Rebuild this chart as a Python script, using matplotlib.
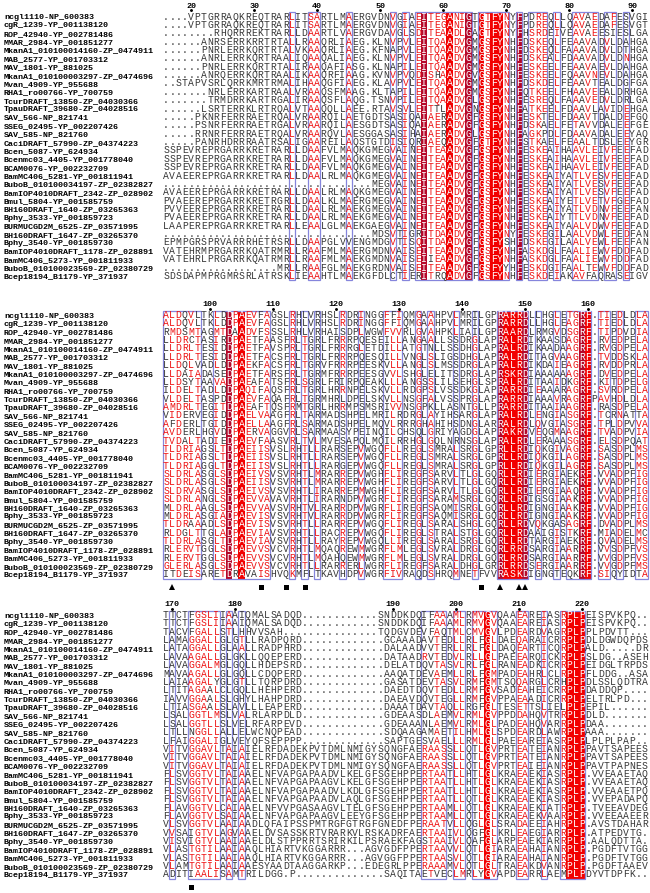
import numpy as np
import matplotlib
matplotlib.use("Agg")
import matplotlib.pyplot as plt
from matplotlib.patches import Rectangle

# sequence names (same order in every block)
names = [
    "ncgl1110-NP_600383", "cgR_1239-YP_001138120", "ROP_42940-YP_002781486",
    "MMAR_2984-YP_001851277", "MkanA1_010100014160-ZP_0474911", "MAB_2577-YP_001703312",
    "MAV_1801-YP_881025", "MkanA1_010100003297-ZP_0474696", "Mvan_4909-YP_955688",
    "RHA1_ro00766-YP_700759", "TcurDRAFT_13850-ZP_04030366", "TpauDRAFT_39680-ZP_04028516",
    "SAV_566-NP_821741", "SSEG_02495-YP_002207426", "SAV_585-NP_821760",
    "CaciDRAFT_57990-ZP_04374223", "Bcen_5087-YP_624934", "Bcenmc03_4405-YP_001778040",
    "BCAM0076-YP_002232709", "BamMC406_5281-YP_001811941", "BuboB_010100034197-ZP_02382827",
    "BamIOP4010DRAFT_2342-ZP_028902", "Bmul_5804-YP_001585759", "BH160DRAFT_1640-ZP_03265363",
    "Bphy_3533-YP_001859723", "BURMUCGD2M_6525-ZP_03571995", "BH160DRAFT_1647-ZP_03265370",
    "Bphy_3540-YP_001859730", "BamIOP4010DRAFT_1178-ZP_028891", "BamMC406_5273-YP_001811933",
    "BuboB_010100023569-ZP_02380729", "Bcep18194_B1179-YP_371937",
]

block1 = [
    "....VPTGRRAQKREQTRARLITSA" + "RTLMAERGVDNVGIAEITEGANIGTGTFYNYFPDREQLLQAVAEDAFESVGI",
    "....VPTGRRAQKREQTRARLITSA" + "RTLMAERGVDNVGIAEITEGANIGTGTFYNYFPDREQLLQAVAEDAFESVGT",
    "........RHQRRREKTRARLLDAA" + "RTLVAERGVDAVGLSDITEAADLGAGTFYNYFHSRDEIVEAVAEESIESLGA",
    "......ANRSERRKRRTRTALLRAA" + "QRLIAEG.KLNVPVLEITQAADVGMGSFYNHFDSKEQLFEAAVADVLDAHGA",
    "......PNRLERRKQRTRTALVKAA" + "QRLIAEG.KFNAPVLEITQAADVGMGSFYNHFDSKEQLFAAAVADVLDTHGA",
    "......ANRLERRKQRTRAALIQAA" + "QALIAEG.KLNVPVLEITQAADVGMGSFYNHFDSKEALFDAAVADVLDNHGA",
    "......PNRLERRKQRTRTALIRAA" + "QAFIASG.KLNAPILEITQAADVGMGSFYNHFESKEELFEAAVAEVLDAHGA",
    "......ANRQERRKQRTRAALIKAA" + "QRFIAAG.KVNVPVQDISHAADVGVGSFYNHFESKEELFQAAVNEVLDAHGA",
    "..STAPVSRLQRRKMRTRMALIHAA" + "QGFIAEG.KLAVPVLEITQAADVGMGSFYNHFDSKDELFEAAVTEALDGFGA",
    ".......NRLERRKARTRAALVRAA" + "QSFMAAG.KLTAPILEITQAADVGMGSFYNHFQTKEELFHAAVEEALDRHGA",
    ".......TRMDRRKARTRGALIRAA" + "QSFLAQG.TSNVPILEITQAADVGLGSFYNHFESREQLFAAAVEDVLDRLGA",
    "......LSRTERRKLRTRQALVTAA" + "QQLLAEE.RTAVSVLEITTLADVGNGSFYNHFATKEELFDAAVLAVIDEHGA",
    ".....PKNRFERRRAETRQALVRAA" + "RQILAETGDTSASIQAIAERADVGFGSFYNHFESKTELFDAAVTDALDEFGQ",
    ".....PSNRFERRRAETRGALVRAA" + "RQILAESGDTSASIQAIAERADVGFGSFYNHFDSKAELFETAVVDALEEFGE",
    ".....RRNRFERRRAETRQALVRAA" + "RQVLAESGGASASIHAIAERADVGLGSFYNHFAGKPDLFDAAVADALEEYAQ",
    ".....PANRHDRRRAATRSALIGAA" + "REILAQSTGTDISIQRIAEQADVGFGTFYNHFSTKAELFEAALTDSLEEYGR",
    "SSPEVREPRGARRKRETRARLLDAA" + "FVLMAQKGMEGVAINEITEAADVGFGSFYNHFESKEAIHAAVLEIVFEEFAD",
    "SSPEVREPRGARRKRETRARLLDAA" + "FVLMAQKGMEGVAINEITEAADVGFGSFYNHFESKEAIHAAVLEIVFEEFAD",
    "SSPEVREPRGARRKRETRARLLDAA" + "FVLMAQKGMEGVAINEITEAADVGFGSFYNHFESKEAIHAAVLEIVFEEFAD",
    "AVAEEREPRGARRKRETRARLLDAA" + "LRLMAQKGMEGVAINEITEAADVGFGSFYNHFESKEAIYATLVESVFEEFAD",
    "........................." + "........MEGVAINEITEAADVGFGSFYNHFESKEAIYATLVESVFEEFAD",
    "AVAEEREPRGARRKRETRARLLDAA" + "LRLMAQKGMEGVAINEITEAADVGFGSFYNHFESKEAIYATLVESVFEEFAD",
    "PVAEEREPRGARRKRETRGRLLDAA" + "LKLMAERGMEGVAINEITEAADVGFGSFYNHFESKEAIYETLVETVFGEFAD",
    "PVVEEREPRGARRKRETRARLLDAA" + "LRLMAEKGMEGVAINEITEAADVGFGSFYNHFESKEAIYATLVDNVFEEFAN",
    "PVAEEREPRGARRKRETRARLLDAA" + "LRLMAEKGMEGVAINEITEAADVGFGSFYNHFESKEAIYTTLVDNVFEEFAD",
    "LAAPEREPRGARRKRETRARLLEAA" + "LGLMAEKGAEGVAINEITEAADVGFGSFYNHFESKEAIYAALVDWVFEEFAD",
    "........................." + "........MDSVTIGRITDAADVGFGSFYNYFESKEGILAALVDWLFEDFAN",
    "EPMPGRSPRVARRRHETRSRLLDAA" + "PGLVVENGMDGVTISQITDAADVGFGSFYSHFDSKEGILAALVEWLFEEFAN",
    "VATEHRMPRGARRKQATRMRLLRAA" + "FMLMAERGMDNVAISEITEAADVGFGSFYNHFASKDGLFAALIEWVFDDFAD",
    "VATEHRLPRGARRKQATRMRLLRAA" + "FMLMAEKGMDNVAISEIIEAADVGFGSFYNHFASKDGLFAALIEWVFDDFAD",
    "..................MRLLRAA" + "FGLMAEKGRDNVAISEITEAADVGFGSFYYHFESKDGIFAALTEWVFDDFAD",
    "SDSDAPMPRGMRSRLATRSKLIEAA" + "HTLMAEKGFDLCTIERITRQADVGFGSFYNHFESKDEIAKAVFAQRASEIGV",
]

block2 = [
    "ALDQVLTKLDDPAEVFAGSLRHLVR" + "HSLRDRINGGFFIQMGAAHPVLMRILGPRARRDLLHGLETGRF.TIEDLDLA",
    "ALDQVLTKLDDPAEVFAGSLRHLVR" + "HSLRDRINGGFFIQMGAAHPVLMRILGPRARRDLLHGLEAGRF.TIEDLDLA",
    "RMDSMTAGMTDAADVFSSSLRHLVR" + "HAISDPLWGWFVVRLGVAHPKLIAILGPRAARDLRMGVDSGRF.TIPDVDIA",
    "LLDRCTASIRDPAETFAASFRLTGR" + "LFRRRPQESEILLANGAALLSSDRGLAPRALRDIKAASDAGRF.RVEDPELA",
    "LLDRLTESIDDPAETFAVSPRLTGR" + "LFRRRGLETDILLATGTNLLSSDHGLAPRALRDIKAADAAGRF.RVGDPELA",
    "LLDRLTESIDDPAETFACSFRLTGR" + "LFRRRPQESQILLVNGLSLIGSDHGLAPRALRDITAGVAAGRF.TVDDSKLA",
    "LLDQLVADLDDPAEKFACSFRLTGR" + "VFRRRPEESKVLLANGLSLMSSDRGLAPRALRDIKDAIEAGRF.RVDDPRLA",
    "LLDAIADASEDPAETFARSFRLTGR" + "MFRRRPEESGVVLSHGLELITSDRGLAPRSKRDIAAAAAAGRF.DVEDPELA",
    "LLDSYTAAVADPAEAFATSFRLSGR" + "LFRIRPQEAKLLLANGSSLILSEHGLSPRALRDITAAIDKGRF.KITDPELG",
    "ILDELTADLDDPAQIFAQSFRLTGR" + "LHRRNPELSKVLLRDGPSLVSSDKGLAPRARRDIEAAARAGRF.SVRDPELA",
    "VLDELTASPDDPAEVFAQAFRLTGR" + "MHRLDPELSKVLLNSGFALVSSPRGLAPRARRDIAAAVRAGRFPAVHDLDLA",
    "AMDRLTEGITDPAEAFTQSFRMTGR" + "LHRRMPSMSRIVVNSGPKLLASNTGLLPRARRDITAAIAAGRF.RASDPELA",
    "VIDERVEGIDDPAELVAAGFRLTAR" + "MADSHPELMRILRDRGLAYIHSARGLAPRALRDLENGIASGRF.TCRNATTA",
    "AFDERLTGIDDPAELLAAGFRLSAR" + "MADSHPELMQVLRRRGHAHIHSDNGLARRALRDLQVGIASGRF.TPLDPVVA",
    "AVDERLHGVDDPAERVAGGVRLSAR" + "MAASYPEINQILCHSQLGRIYAGDGLAPRAKRDVEQGMAAGRF.TVADPVIA",
    "TVDALTADIEDPAEVFAASVRLTVL" + "MVESAPQLMQILRRHGLGQLNRNSGLAPRALRDLERAAASGRF.ELSDPQAT",
    "TLDRIAGSLTDPAEIISVSLRHTLL" + "RARSEPVWGQFLLREGLSMRALSRGLGPRLLRDIQKGIVAGRF.SASDPLMS",
    "TLDRIAGSLTDPAEIISVSLRHTLL" + "RARSEPVWGQFLLREGLSMRALSRGLGPRLLRDIQKGILAGRF.SASDPLMS",
    "TLDRIAGGLTDPAEIISVSLRHTLL" + "RARGEPVWGQFLLREGLSMRALSRGLGPRLLRDIQKGILAGRF.SASDPLMS",
    "SLDRLASGLSDPAEIVSVSVRHTLM" + "RARREPVWGHFLIREGFSARVLTLGLGQRLLRDIERGIAEKRF.VVADPFIG",
    "SLDRLASGLSDPAEIISVSVRHTLM" + "RARREPVWGHFLIREGFSARVLTLGLGQRLLRDIERGIAEKRF.VVADPFIG",
    "SLDRVASGLSDPAEIVSVSVRHTLI" + "RARREPMWGHFLIREGFSARVLTLGLGQRLLRDIERGIAAQRF.VVADPFIG",
    "SLDRLANGLSDPAEVVAVAVRHTLI" + "RARNDPVWGRFLIREGFSARAMSRGLGQRLLRDIGSGIAAKRF.VVADPFIG",
    "MLDRLAAGLSDPAEVVAVSVRHTVL" + "RARRDPVWGRFLIREGFSAQMISRGLGQRLLRDIGNGIAAKRF.VVADPFIG",
    "MLDRLASGIADPAEVISVSVRHTVL" + "RARRDPVWGRFLIREGFSAQMISRGLGQRLLRDIGNGIAAKRF.VVADPFIG",
    "TLDRAAADLSDPAEVISVSVRHTLL" + "RARREPVWGQFLIREGLSARALSHGLGQRLLRDVQKGASAGRF.DVADPLMS",
    "RLDGLTTGLADPAEVIAVSVRHTLL" + "RACREPVWGQFLIREGLSTRALSTGLGQRLLRDAAIGISTKRF.MIADELMC",
    "TLDRLASGLTDPAEVIAVSVRHTLL" + "RAYREPVWGQLLIREGLSARALSRGLGQRLLRDTARGIAEKRF.QVADELMS",
    "RLERVTGGLSDPAEVVSVCVRHTLM" + "QAQREWMWGRFLMLEGLSVRALDRGLGQRLRRDSARGIAARRF.VVSDPFVS",
    "RLERVTGGLSDPAEVVSVCVRHTLM" + "QAHQEWMWGRFLMLEGLSVRALDRGLGQRLRRDSARGIAARRF.VVGDPFVS",
    "GLERLASGLSDPAEVVSVCVRHTLL" + "RARRERLWGRFLIREGFSARALDHGLGRRLRRDSERGIAARRF.VVGDPFMS",
    "ITDEISARETDRAVAISHVQKMFLT" + "KAVHDPVWGRFIVRAQDSHRQMNETFVVRASKDIGNGTEQKRF.SIQYIDTA",
]

block3 = [
    "TTCTFGSLIIAAIQMALSADQD..." + "........." + "SNDDKDQIFAAAMLRMVGVQAAEAREIASRPLPEISPVKPQ..",
    "TTCTFGSLIIAAIQMALSADQD..." + "........." + "SNDDKDQIFAAAMLRMVGVQAAEAREIASRPLPEISPVKPQ..",
    "TACVFGALLSTLHHVVSAH......" + "........." + "TQDGVDEVFAQTMLCMVGVLPDEARDVAGRPLPPLPDVTT...",
    "LAMAGGALLGLGTLLRADPQRD..." + ".........." + "GCAAADAVTEDLLRLFGLDAEQARAICRRPLPDLDGWDQPDS",
    "LATAGGALLGLAALLRADPHRD..." + ".........." + "DALAADVVTERLLRLFGLDAQEARTICQRPLPALD.....DR",
    "LAVAAGALLGLGKLLQQEPERD..." + ".........." + "DATAADRVTEDVLRLLGLPAEEARQICKRPLPSLDG..ASEH",
    "LAVAGGALMGLGQLLHDEPSRD..." + ".........." + "DELATDQVTASVLRLFGLRANEADKICRRPLPEIDGLTRPDS",
    "MAVAAGALLGLGQLLCDQPERD..." + ".........." + "AAQATDEVAEMLLRLFGMPADEAHRLCLRPLPFLDDG..ASA",
    "LAIAAGALYGLGTLLTQRPDRD..." + ".........." + "GASATDEVTASVLRMFGMTSQQARGLCRHPLPDLSSLQDTRA",
    "LTITAGAALCLGQLLHEHPERD..." + ".........." + "DAEDTDQVTEDLLRMFGVSADEAHEICRRPLPDADDQP....",
    "IAVVGGAALSLGHYLHAHPDRD..." + ".........." + "DAEAVDQVTEGLLRMFGVPPAEAADICRRPLPELTRLPD...",
    "LTIASGAALSLAVLLLEAPERD..." + ".........." + "DAAATDAVTAQLLRGFGLTESETTSLIELPLPEPIL......",
    "LSALGGTLMSLVALRLARPDLD..." + ".........." + "GDEAASDLAEMVLRMLGVPPDDAHQVTRRPLPDLD.......",
    "LSALGGTLLSLVELRFARPEVD..." + ".........." + "GDEAAANLAEMVLRMLGLPADEAHQVARRPLPDAA.......",
    "LTLLNGGLLALLELWCNQPEAD..." + ".........." + "SDQAAGAMAETILHMLGLSPDEARDLAWRPLPAAA.......",
    "LFAIGGALIGLVEYQFSEPPPP..." + ".........." + "SAPTGESVAELLLRMLGLPAEEAREIASRPLPLPLPLPAP..",
    "VITVGGAVLTAIAIELRFDADEKPV" + "TDMLNMIGYSQNGFAERAASSLLQTLGVPRTEATEIANRPLPPAVTSAPEES",
    "VITVGGAVLTAIAIELRFDADEKPV" + "TDMLNMIGYSQNGFAERAASSLLQTLGVPRTEATEIANRPLPPAVTSAPEES",
    "VITVGGAVLTAIAIELRFDADEKPV" + "TDMLNMIGYSQNGFAERAASSLLQTLGVPRTEAIEIANRPLPPAVTPAPNES",
    "FLSVGGTVLTAIAAELNFVAPGAPA" + "ADVLKELGFSGEHPPERTAATLLHTLGLKRAEAEKIASRPLP.VVEAAETAQ",
    "FLSVGGTVLTAIAAELNFVAPGAPA" + "AGVLKELGFSGEHPPERTAATLLHTLGLKRAEAEKIASRPLP.VVEAAETAQ",
    "FLSVGGTVLTAIAAELNFVAPGAPA" + "ADVLKDLGFSGEHPPERTAATLLHTLGLKRAEAEKIASRPLP.VVEAAETPQ",
    "FLSVGGTVLTAIAAELNFVAPGAPA" + "ADVLAQLGFSGEHPPERTAATLLQTLGLKRAEAEKIASRPLP.VVEPADAPQ",
    "FLAVGGTVLCAIAAELNFVVPGASA" + "AGVLTELGFSGEHPPERTAAMLLQTLGLKRAEAEKIATRPLP.TVEEAVDEG",
    "FLAVGGTVLSAIAAELNFVAPGAPA" + "AGVLEEYGFSGEHPPERTAAMLLQTLGLKRAEAEKVAARPLP.VVEEAAEER",
    "VLSVGGTVLAAIAADLQFAIPSSPM" + "TRGFGTRGFGNEDFPERAATVLLQGLGLSRADAEEIAHRPLP.AVSTDAHAR",
    "VVSAIGTVLAGVAAELDVSASSKRT" + "VRARKVLRSKADRFAERTAAIVLQGFGLKRLEAEGIARRPLP.ATPEDVTG.",
    "VISVIGTVLAAIAAELDLSTPPRRT" + "SRIRKILPSRAEKFAGSTAAIVLQAFGLARPEAEKIARRPLP.AALQDTTA.",
    "VLASTGTILAAIAAQLHIARTVKGG" + "ARRR...AGVGDFPPERTAAVVLQTLGIARAEAHAIANRPLP.PGDFTVTGG",
    "VLASTGTILAAIAAQLHIARTVKGG" + "ARRR...AGVGGFPPERTAASVLQTLGIARAEAHAIANRPLP.PGDFTVTGG",
    "VLAMTGTILAAIAAESYAADTAAGG" + "ARKP...EDEGRLPPERAAAMVLQTLGLTRAEAKDVANRPLP.PGDFTAAEV",
    "ADITIAALISAMTRILDGG.P...." + ".........." + "SAQITAETVECLMRLYGVAPDEARRLAEMPLPDYVTDPFK..",
]

# red-boxed (conserved) columns, two shades as in the picture
fill_bright = [[45, 50, 52, 53], [12, 54, 55, 56, 67], [51, 64, 65, 66]]
fill_dark = [[41, 48, 56], [10, 53, 57, 66], []]

# blue-framed column ranges (similar columns)
frames = [
    [(20, 20), (23, 24), (29, 29), (36, 36), (38, 38), (40, 48), (50, 54), (56, 56),
     (58, 60), (62, 62), (65, 68), (70, 71), (73, 73)],
    [(0, 5), (8, 16), (20, 20), (22, 22), (24, 24), (28, 28), (31, 31), (35, 37),
     (40, 40), (42, 42), (46, 46), (49, 49), (53, 57), (59, 59), (62, 62), (64, 67),
     (69, 70), (72, 72), (75, 76)],
    [(1, 1), (4, 8), (10, 10), (12, 12), (41, 44), (46, 47), (49, 52), (56, 57),
     (60, 60), (63, 66)],
]

# markers under blocks 2 and 3
tri_cols = [[], [1, 53, 56, 57], []]
sq_cols = [[], [15, 19, 22, 50], [4]]

# numbering follows the last sequence, first residue = 16
num_ref = 31
num_start = 16

groups = ["ILMV", "FYWH", "KR", "DENQ", "STAG", "P", "C"]

X0 = 166.0
CW = 6.3
RH = 8.37
block_y0 = [16.5, 315.0, 615.0]

RED = "#ee1515"
BRIGHT = "#f20000"
DARK = "#b5082a"
FRAME = "#8585dc"
GREY = "#383838"
MONO = "Liberation Mono"

fig = plt.figure(figsize=(6.5, 8.93), dpi=100)
ax = fig.add_axes([0, 0, 1, 1])
ax.set_xlim(0, 650)
ax.set_ylim(893, 0)
ax.axis("off")

counter = num_start
for b, seqs in enumerate([block1, block2, block3]):
    n = len(seqs)
    L = max(len(s) for s in seqs)
    seqs = [s.ljust(L, ".")[:L] for s in seqs]
    y0 = block_y0[b]
    ys = y0 + np.arange(n) * RH
    top = y0 - RH / 2
    h = n * RH

    for i, nm in enumerate(names):
        ax.text(4, ys[i] + 2.6, nm, fontsize=6.0, family=MONO, weight="bold",
                ha="left", va="baseline", color="black")

    fills = set(fill_bright[b]) | set(fill_dark[b])

    # dominant similarity group of each framed column -> red letters
    sim = {}
    for a, e in frames[b]:
        for c in range(a, e + 1):
            col = [s[c] for s in seqs]
            best, bestn = None, 0
            for g in groups:
                k = sum(ch in g for ch in col)
                if k > bestn:
                    best, bestn = g, k
            sim[c] = best

    for c in fill_bright[b]:
        ax.add_patch(Rectangle((X0 + c * CW - CW / 2, top), CW, h, color=BRIGHT, lw=0))
    for c in fill_dark[b]:
        ax.add_patch(Rectangle((X0 + c * CW - CW / 2, top), CW, h, color=DARK, lw=0))

    for a, e in frames[b]:
        ax.add_patch(Rectangle((X0 + a * CW - CW / 2, top - 0.3), (e - a + 1) * CW, h + 0.6,
                               fill=False, ec=FRAME, lw=0.9))

    for i, s in enumerate(seqs):
        for c, ch in enumerate(s):
            if c in fills:
                color = "white"
            elif c in sim and ch in sim[c]:
                color = RED
            else:
                color = GREY
            ax.text(X0 + c * CW, ys[i] + 3.0, ch, fontsize=7.0, family=MONO,
                    ha="center", va="baseline", color=color)

    # ruler
    ref = seqs[num_ref]
    for c, ch in enumerate(ref):
        if ch == ".":
            continue
        if counter % 10 == 0:
            x = X0 + c * CW
            ax.text(x, y0 - 8.5, str(counter), fontsize=6.0, family=MONO, weight="bold",
                    ha="center", va="baseline", color="black")
            ax.plot(x, y0 - 6.3, "o", ms=1.1, color="black")
        counter += 1

    ym = ys[-1] + 13
    for c in tri_cols[b]:
        ax.plot(X0 + c * CW, ym, "^", ms=5, color="black", mew=0)
    for c in sq_cols[b]:
        ax.plot(X0 + c * CW, ym, "s", ms=3.6, color="black", mew=0)

fig.savefig("out.png", dpi=100, facecolor="white")
